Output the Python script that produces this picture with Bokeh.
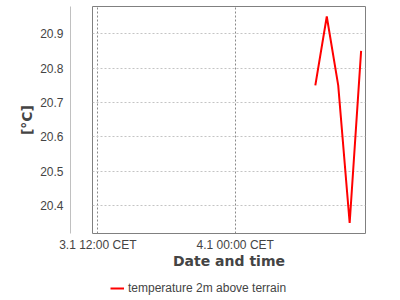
from datetime import datetime
from bokeh.plotting import figure
from bokeh.layouts import column
from bokeh.models import (LinearAxis, FixedTicker, Range1d, Legend, LegendItem)
from bokeh.embed import file_html
from bokeh.resources import INLINE

# ---- data ----
times = [datetime(2024, 1, 4, 7, 0), datetime(2024, 1, 4, 8, 0), datetime(2024, 1, 4, 9, 0),
         datetime(2024, 1, 4, 10, 0), datetime(2024, 1, 4, 11, 0)]
temps = [20.75, 20.95, 20.75, 20.35, 20.85]
series_name = "temperature 2m above terrain"

x_tick_times = [datetime(2024, 1, 3, 12, 0), datetime(2024, 1, 4, 0, 0)]
x_tick_labels = ["3.1 12:00 CET", "4.1 00:00 CET"]
y_ticks = [20.4, 20.5, 20.6, 20.7, 20.8, 20.9]
x_start = datetime(2024, 1, 3, 11, 32)
x_end = datetime(2024, 1, 4, 11, 23)
y_start, y_end = 20.3195, 20.979

EPOCH = datetime(1970, 1, 1)
def ms(d):
    return (d - EPOCH).total_seconds() * 1000.0

TEXT = "#444444"
TICK_FONT = "Liberation Sans"
LABEL_FONT = "DejaVu Sans"
LINE_COLOR = "#ff0000"

p = figure(width=400, height=275, output_backend="svg", toolbar_location=None,
           x_axis_type="datetime",
           x_range=Range1d(ms(x_start), ms(x_end)), y_range=Range1d(y_start, y_end),
           min_border_left=92, min_border_right=35, min_border_top=6, min_border_bottom=42)
p.background_fill_color = "white"
p.border_fill_color = "white"
p.outline_line_color = "#808080"
p.outline_line_width = 1

# spacer axis (inner) to offset the visible y axis from the frame
sp = p.yaxis[0]
sp.ticker = FixedTicker(ticks=[y_ticks[1]])
sp.major_label_overrides = {y_ticks[1]: ""}
sp.major_tick_out = 22
sp.major_tick_in = 0
sp.major_tick_line_color = None
sp.minor_tick_line_color = None
sp.axis_line_color = None
sp.major_label_standoff = 0
sp.axis_label = None

# visible y axis
ya = LinearAxis(ticker=FixedTicker(ticks=y_ticks), axis_label="[°C]")
ya.axis_line_color = "#c0c0c0"
ya.major_tick_line_color = None
ya.minor_tick_line_color = None
ya.major_tick_out = 0
ya.major_tick_in = 0
ya.major_label_standoff = 7
ya.major_label_text_font = TICK_FONT
ya.major_label_text_font_size = "12px"
ya.major_label_text_color = TEXT
ya.axis_label_text_font = LABEL_FONT
ya.axis_label_text_font_style = "bold"
ya.axis_label_text_font_size = "14px"
ya.axis_label_text_color = TEXT
ya.axis_label_standoff = 2
p.add_layout(ya, "left")

# x axis
xa = p.xaxis[0]
xa.ticker = FixedTicker(ticks=[ms(t) for t in x_tick_times])
xa.major_label_overrides = {ms(t): lab for t, lab in zip(x_tick_times, x_tick_labels)}
xa.axis_line_color = None
xa.major_tick_line_color = None
xa.minor_tick_line_color = None
xa.major_tick_out = 0
xa.major_tick_in = 0
xa.major_label_standoff = 4
xa.major_label_text_font = TICK_FONT
xa.major_label_text_font_size = "12px"
xa.major_label_text_color = TEXT
xa.axis_label = "Date and time"
xa.axis_label_text_font = LABEL_FONT
xa.axis_label_text_font_style = "bold"
xa.axis_label_text_font_size = "14px"
xa.axis_label_text_color = TEXT
xa.axis_label_standoff = -2

# grids
p.ygrid[0].ticker = FixedTicker(ticks=y_ticks)
p.ygrid.grid_line_color = "#c4c4c4"
p.ygrid.grid_line_dash = "2 2"
p.ygrid.grid_line_width = 1
p.xgrid[0].ticker = FixedTicker(ticks=[ms(t) for t in x_tick_times])
p.xgrid.grid_line_color = "#8a8a8a"
p.xgrid.grid_line_dash = "2 2"
p.xgrid.grid_line_width = 1

p.line(x=times, y=temps, line_color=LINE_COLOR, line_width=2)

# legend strip below the chart
p2 = figure(width=400, height=25, output_backend="svg", toolbar_location=None,
            x_range=Range1d(0, 1), y_range=Range1d(0, 1),
            x_axis_location=None, y_axis_location=None,
            min_border_left=0, min_border_right=0, min_border_top=0, min_border_bottom=0)
p2.outline_line_color = None
p2.grid.visible = False
p2.background_fill_color = "white"
p2.border_fill_color = "white"
r2 = p2.line(x=[ms(t) for t in times], y=temps, line_color=LINE_COLOR, line_width=2)

lg = Legend(items=[LegendItem(label=series_name, renderers=[r2])])
lg.location = (18, 5)
lg.border_line_color = None
lg.background_fill_alpha = 0
lg.padding = 0
lg.margin = 0
lg.glyph_width = 14
lg.glyph_height = 12
lg.label_height = 12
lg.label_standoff = 4
lg.label_text_font = TICK_FONT
lg.label_text_font_size = "12px"
lg.label_text_color = TEXT
p2.add_layout(lg, "center")

layout = column(p, p2, spacing=0)
open("out.html", "w").write(file_html(layout, INLINE))
